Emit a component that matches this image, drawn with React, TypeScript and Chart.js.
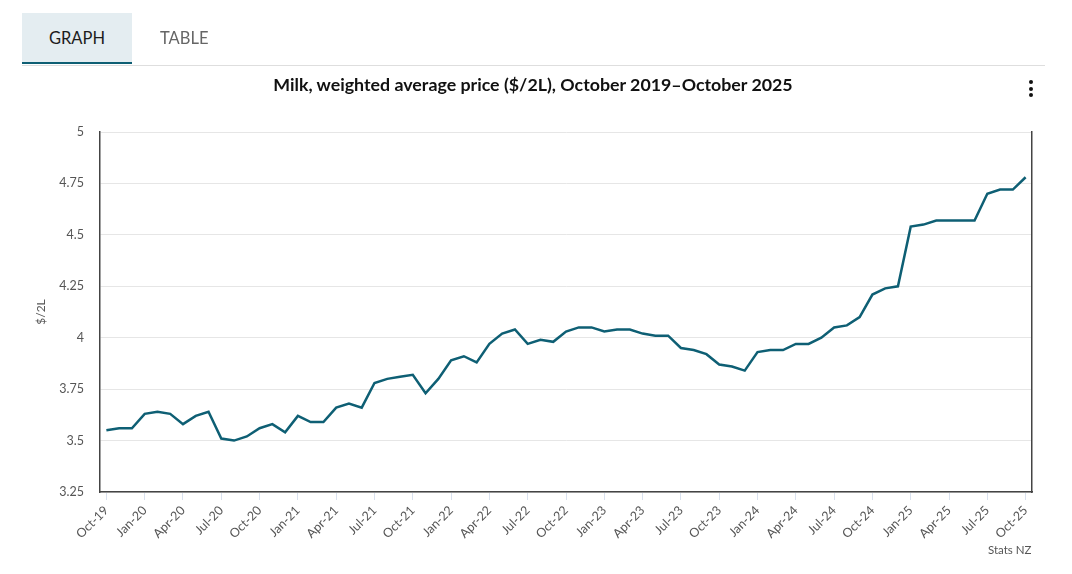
import React, { useEffect, useRef } from "react";
import { Chart, registerables } from "chart.js";

Chart.register(...registerables);

const months = ["Jan", "Feb", "Mar", "Apr", "May", "Jun", "Jul", "Aug", "Sep", "Oct", "Nov", "Dec"];
const categories: string[] = [];
for (let y = 2019; y <= 2025; y++) {
  for (let m = 0; m < 12; m++) {
    if (y === 2019 && m < 9) continue;
    if (y === 2025 && m > 9) continue;
    categories.push(`${months[m]}-${String(y).slice(2)}`);
  }
}

const prices2019 = [3.55, 3.56, 3.56];
const prices2020 = [3.63, 3.64, 3.63, 3.58, 3.62, 3.64, 3.51, 3.5, 3.52, 3.56, 3.58, 3.54];
const prices2021 = [3.62, 3.59, 3.59, 3.66, 3.68, 3.66, 3.78, 3.8, 3.81, 3.82, 3.73, 3.8];
const prices2022 = [3.89, 3.91, 3.88, 3.97, 4.02, 4.04, 3.97, 3.99, 3.98, 4.03, 4.05, 4.05];
const prices2023 = [4.03, 4.04, 4.04, 4.02, 4.01, 4.01, 3.95, 3.94, 3.92, 3.87, 3.86, 3.84];
const prices2024 = [3.93, 3.94, 3.94, 3.97, 3.97, 4.0, 4.05, 4.06, 4.1, 4.21, 4.24, 4.25];
const prices2025 = [4.54, 4.55, 4.57, 4.57, 4.57, 4.57, 4.7, 4.72, 4.72, 4.78];

const values = [...prices2019, ...prices2020, ...prices2021, ...prices2022, ...prices2023, ...prices2024, ...prices2025];

const yMin = 3.25;
const yMax = 5;
const yStep = 0.25;

const FONT = "Lato, 'Open Sans', sans-serif";
const LINE = "#0e5f74";

export default function App() {
  const canvasRef = useRef<HTMLCanvasElement | null>(null);

  useEffect(() => {
    document.body.style.margin = "0";
    const canvas = canvasRef.current;
    if (!canvas) return;
    const chart = new Chart(canvas, {
      type: "line",
      data: {
        labels: categories,
        datasets: [
          {
            label: "Milk",
            data: values,
            borderColor: LINE,
            borderWidth: 2.5,
            pointRadius: 0,
            tension: 0,
            fill: false,
          },
        ],
      },
      options: {
        animation: false,
        responsive: false,
        maintainAspectRatio: false,
        layout: { padding: { top: 132, left: 34, right: 40, bottom: 0 } },
        plugins: {
          legend: { display: false },
          tooltip: { enabled: false },
          title: { display: false },
        },
        scales: {
          x: {
            type: "category",
            offset: true,
            border: { display: true, color: "#444", width: 1.5 },
            grid: {
              display: true,
              drawOnChartArea: false,
              drawTicks: true,
              tickLength: 8,
              tickColor: "#d9e1ee",
              offset: false,
            },
            ticks: {
              autoSkip: false,
              maxRotation: 45,
              minRotation: 45,
              padding: 3,
              color: "#555",
              font: { family: FONT, size: 12.5 },
              callback: function (this: any, _v: any, index: number) {
                return index % 3 === 0 ? categories[index] : null;
              },
            },
            afterFit: (scale: any) => {
              scale.height = 82;
            },
          },
          y: {
            min: yMin,
            max: yMax,
            border: { display: true, color: "#444", width: 1.5 },
            grid: { color: "#e6e6e6", lineWidth: 1, drawTicks: false },
            ticks: {
              stepSize: yStep,
              padding: 16,
              color: "#555",
              font: { family: FONT, size: 12.5 },
              callback: (v: any) => String(Number(Number(v).toFixed(2))),
            },
            title: {
              display: true,
              text: "$/2L",
              color: "#555",
              font: { family: FONT, size: 12 },
              padding: 0,
            },
            afterFit: (scale: any) => {
              scale.width = 66;
            },
          },
          y2: {
            position: "right",
            min: yMin,
            max: yMax,
            border: { display: true, color: "#444", width: 1.5 },
            grid: { drawOnChartArea: false, drawTicks: false },
            ticks: { display: false },
            afterFit: (scale: any) => {
              scale.width = 0;
            },
          },
        },
      },
    });
    return () => chart.destroy();
  }, []);

  return (
    <div style={{ position: "relative", width: 1072, height: 574, fontFamily: FONT, overflow: "hidden" }}>
      <canvas ref={canvasRef} width={1072} height={574} style={{ position: "absolute", left: 0, top: 0, width: 1072, height: 574 }} />
      <div style={{ position: "absolute", left: 22, top: 65, width: 1023, height: 1, background: "#dedede" }} />
      <div
        style={{
          position: "absolute",
          left: 22,
          top: 13,
          width: 110,
          height: 49,
          background: "#e4edf1",
          borderBottom: `2.5px solid ${LINE}`,
          display: "flex",
          alignItems: "center",
          justifyContent: "center",
          fontSize: 16.5,
          color: "#1c1c1c",
        }}
      >
        GRAPH
      </div>
      <div style={{ position: "absolute", left: 160, top: 13, height: 49, display: "flex", alignItems: "center", fontSize: 16.5, color: "#666" }}>
        TABLE
      </div>
      <div
        style={{
          position: "absolute",
          left: 0,
          top: 73,
          width: 1066,
          textAlign: "center",
          fontSize: 17.8,
          fontWeight: 700,
          color: "#111",
        }}
      >
        Milk, weighted average price ($/2L), October 2019–October 2025
      </div>
      {[82, 89, 95].map((t) => (
        <div key={t} style={{ position: "absolute", left: 1029, top: t - 2, width: 4, height: 4, borderRadius: 2, background: "#111" }} />
      ))}
      <div style={{ position: "absolute", left: 988, top: 543, fontSize: 11.5, color: "#555" }}>Stats NZ</div>
    </div>
  );
}
